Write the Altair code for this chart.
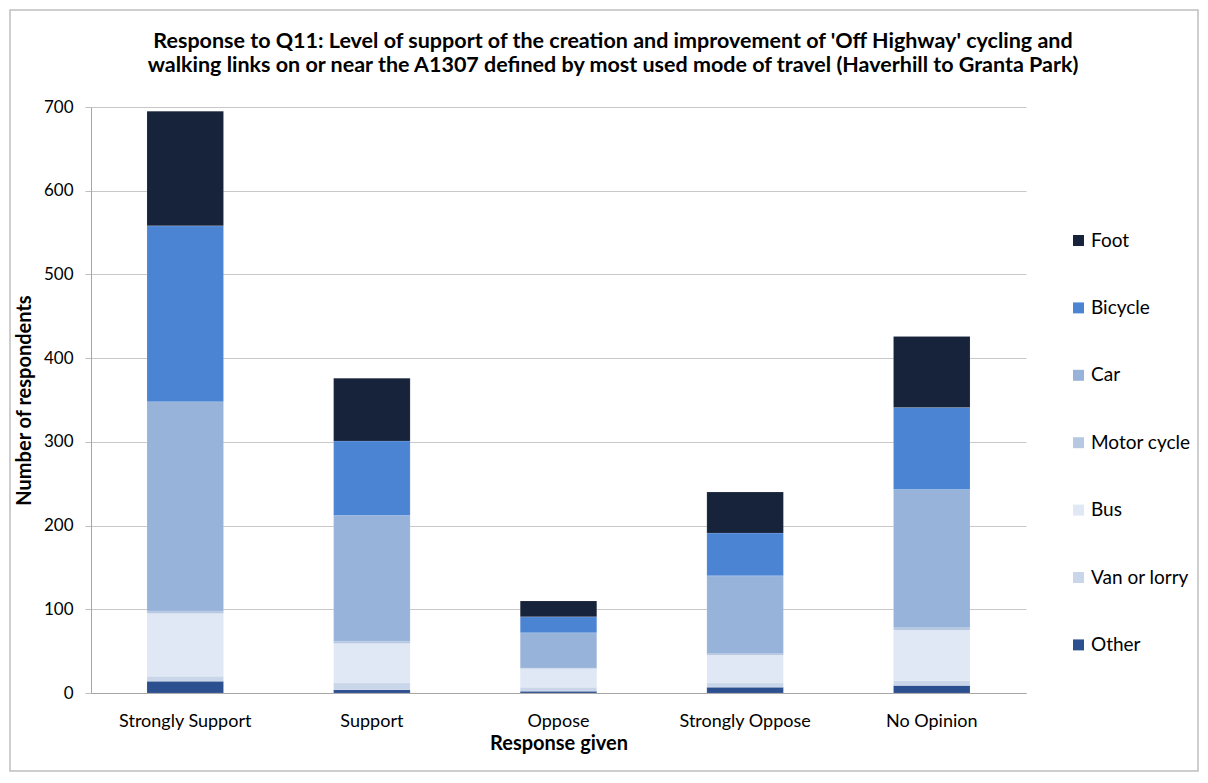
import altair as alt
import pandas as pd

responses = ["Strongly Support", "Support", "Oppose", "Strongly Oppose", "No Opinion"]
modes = ["Foot", "Bicycle", "Car", "Motor cycle", "Bus", "Van or lorry", "Other"]
colors = ["#17233a", "#4c84d4", "#98b3da", "#b6c8e2", "#dfe8f4", "#c9d6ea", "#2c4f8f"]

other = [14, 4, 2, 7, 9]
van = [6, 8, 5, 5, 6]
bus = [75, 47, 22, 33, 60]
motor = [3, 3, 1, 2, 3]
car = [250, 150, 42, 93, 165]
bicycle = [210, 89, 19, 51, 98]
foot = [137, 75, 19, 49, 85]

title_lines = [
    "Response to Q11: Level of support of the creation and improvement of 'Off Highway' cycling and",
    "walking links on or near the A1307 defined by most used mode of travel (Haverhill to Granta Park)",
]

series = {
    "Other": other, "Van or lorry": van, "Bus": bus, "Motor cycle": motor,
    "Car": car, "Bicycle": bicycle, "Foot": foot,
}
stack_order = ["Other", "Van or lorry", "Bus", "Motor cycle", "Car", "Bicycle", "Foot"]

rows = []
for m in stack_order:
    for r, v in zip(responses, series[m]):
        rows.append({"Response": r, "Mode": m, "Value": v, "ord": stack_order.index(m)})
df = pd.DataFrame(rows)

font = "Lato"

bars = alt.Chart(df).mark_bar(stroke="#ffffff", strokeWidth=0.3, strokeOpacity=0.4).encode(
    x=alt.X("Response:N", sort=responses,
            scale=alt.Scale(paddingInner=0.59, paddingOuter=0.3),
            axis=alt.Axis(title="Response given", labelAngle=0, labelFontSize=18,
                          labelFont=font, titleFont=font, titleFontSize=20,
                          titleFontWeight="bold", titlePadding=3, ticks=False,
                          domainColor="#a6a6a6", labelPadding=19, labelColor="#000000",
                          titleColor="#000000")),
    y=alt.Y("Value:Q", stack="zero",
            scale=alt.Scale(domain=[0, 700], nice=False),
            axis=alt.Axis(title="Number of respondents", values=[0, 100, 200, 300, 400, 500, 600, 700],
                          labelFontSize=17, labelFont=font, titleFont=font, titleFontSize=20,
                          titleFontWeight="bold", titlePadding=9, domain=True,
                          domainColor="#a6a6a6",
                          tickSize=6, tickColor="#bfbfbf", gridColor="#c8c8c8",
                          labelPadding=12, labelColor="#000000", titleColor="#000000")),
    color=alt.Color("Mode:N", scale=alt.Scale(domain=modes, range=colors),
                    legend=alt.Legend(title=None, orient="none", legendX=978, legendY=124,
                                      labelFontSize=19, labelFont=font, labelColor="#000000",
                                      symbolType="square", symbolSize=120, symbolStrokeWidth=0,
                                      rowPadding=47.4, labelOffset=3)),
    order=alt.Order("ord:Q", sort="ascending"),
)

one = pd.DataFrame({"f": [0]})

frame = alt.Chart(one).mark_rect(
    fillOpacity=0, fill="#ffffff", stroke="#bfbfbf", strokeWidth=1.5
).encode(
    x=alt.value(-81), x2=alt.value(1107), y=alt.value(-97), y2=alt.value(664)
)

title1 = alt.Chart(one).mark_text(
    font=font, fontSize=21.5, fontWeight="bold", align="center", baseline="middle", color="#000000"
).encode(x=alt.value(522), y=alt.value(-65), text=alt.value(title_lines[0]))

title2 = alt.Chart(one).mark_text(
    font=font, fontSize=21.5, fontWeight="bold", align="center", baseline="middle", color="#000000"
).encode(x=alt.value(522), y=alt.value(-41), text=alt.value(title_lines[1]))

chart = alt.layer(frame, title1, title2, bars).properties(
    width=935,
    height=586,
    background="#ffffff",
    padding={"left": 83, "top": 99, "right": 174, "bottom": 80},
    autosize=alt.AutoSizeParams(type="none"),
).configure_view(stroke=None)

chart.save("out.html", embed_options={"renderer": "svg", "actions": False})
